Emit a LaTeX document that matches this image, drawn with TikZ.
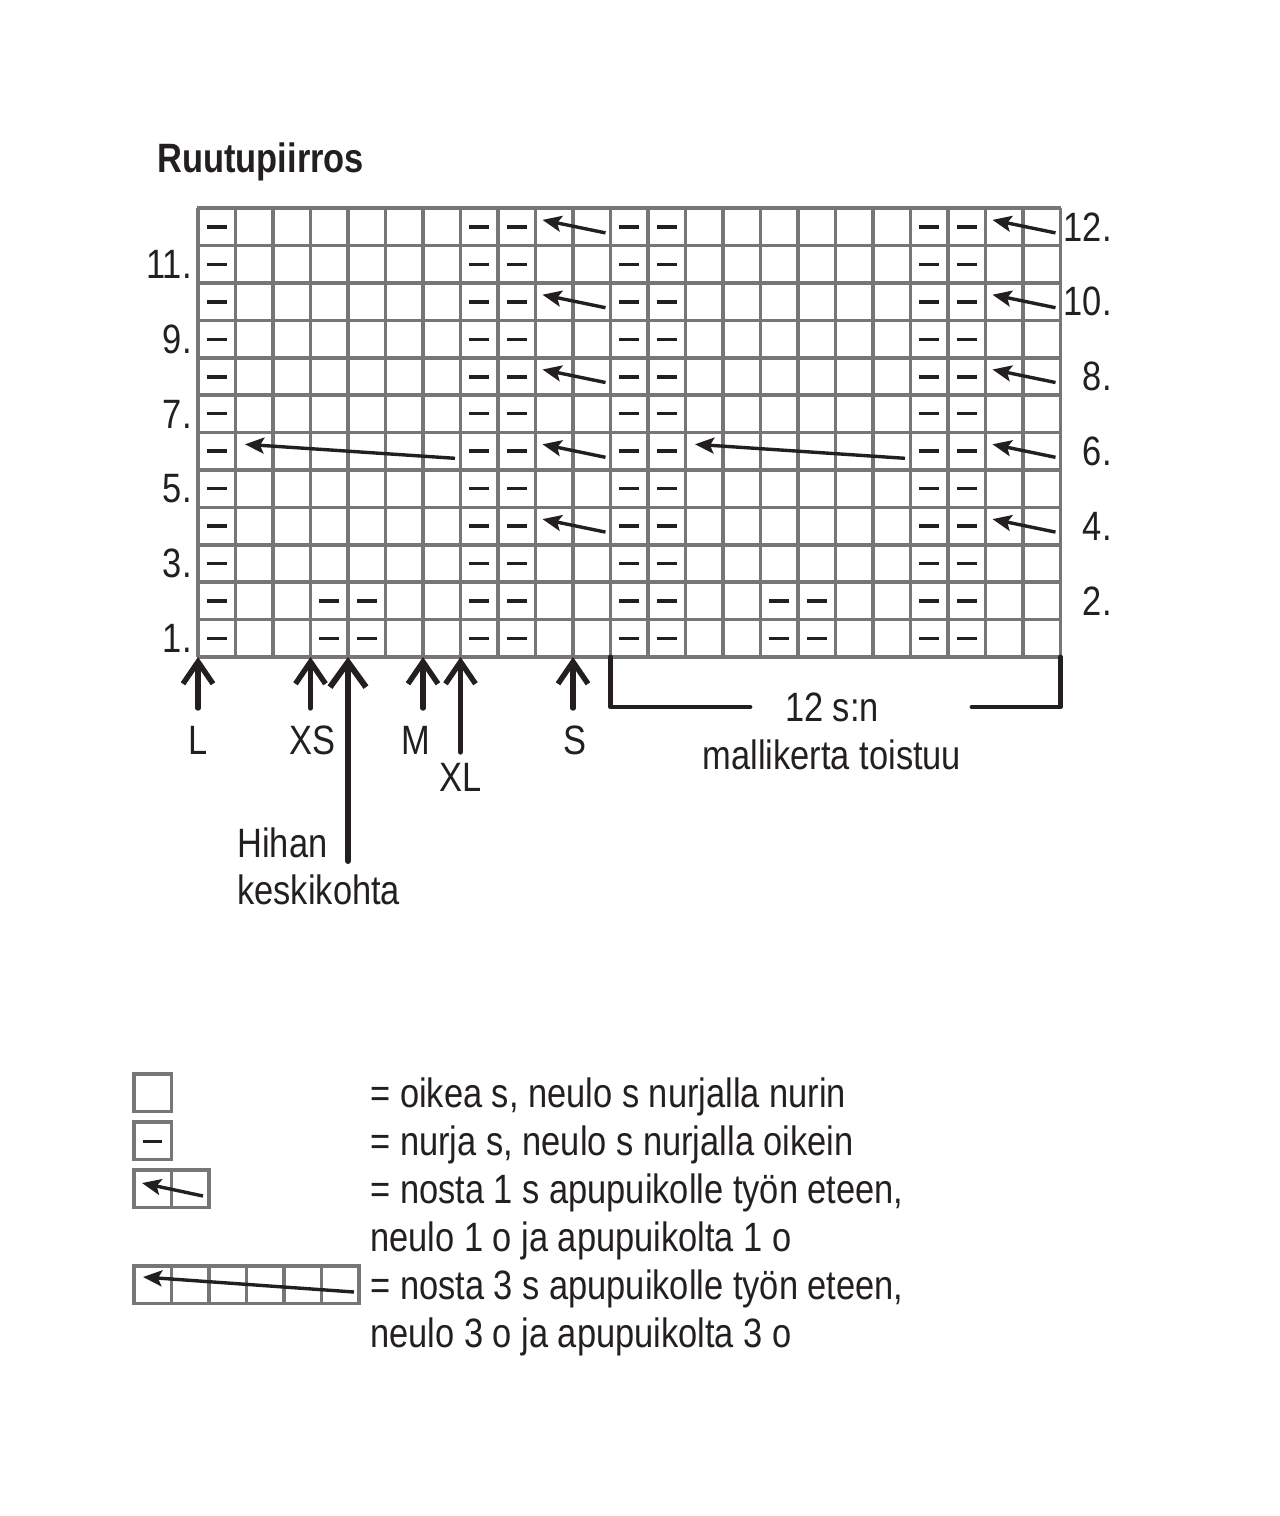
\documentclass[tikz,border=0pt]{standalone}
\usepackage{fontspec}
\setmainfont{Liberation Sans}[FakeStretch=0.84]
\usetikzlibrary{arrows.meta}
\definecolor{ink}{HTML}{231F20}
\definecolor{gridgray}{HTML}{767676}
\tikzset{
  gridline/.style={draw=gridgray,line width=1.8pt},
  dashthick/.style={draw=ink,line width=2pt},
  dashthin/.style={draw=ink,line width=1.5pt},
  cable/.style={draw=ink,line width=1.7pt,-{Stealth[length=9.5pt,width=8pt,inset=2pt]}},
  sizearrow/.style={draw=ink,line width=2.7pt,line cap=round,-{Straight Barb[length=11pt,width=15pt,line width=2.7pt]}},
  bigarrow/.style={draw=ink,line width=3pt,line cap=round,-{Straight Barb[length=12.5pt,width=18pt,line width=3pt]}},
  bracketline/.style={draw=ink,line width=2.4pt,line cap=round,line join=round},
  lbl/.style={text=ink,inner sep=0pt,font=\fontsize{20.5}{24}\selectfont},
  ttl/.style={text=ink,inner sep=0pt,font=\fontsize{20.5}{24}\selectfont\bfseries},
}
\begin{document}
\begin{tikzpicture}[x=0.5pt,y=-0.5pt]
\useasboundingbox (0,0) rectangle (1280,1516);
\fill[white] (0,0) rectangle (1280,1516);
% title
\node[ttl,anchor=base west] (title) at (157,172) {Ruutupiirros};
% grid
\foreach \i in {0,...,23} {
  \draw[gridline] ({198+\i*37.5},208.2) -- ({198+\i*37.5},657);
}
\foreach \j in {0,...,12} {
  \draw[gridline] (197.1,{657-\j*37.4}) -- (1061.4,{657-\j*37.4});
}
% purl dashes
\foreach \r in {1,2} {
  \foreach \c in {1,4,5,8,9,12,13,16,17,20,21} {
    \pgfmathsetmacro\cx{198+(\c-0.5)*37.5}
    \pgfmathsetmacro\cy{657-(\r-0.5)*37.4}
    \ifodd\r
      \draw[dashthin] ({\cx-10},\cy) -- ({\cx+10},\cy);
    \else
      \draw[dashthick] ({\cx-10},\cy) -- ({\cx+10},\cy);
    \fi
  }
}
\foreach \r in {3,...,12} {
  \foreach \c in {1,8,9,12,13,20,21} {
    \pgfmathsetmacro\cx{198+(\c-0.5)*37.5}
    \pgfmathsetmacro\cy{657-(\r-0.5)*37.4}
    \ifodd\r
      \draw[dashthin] ({\cx-10},\cy) -- ({\cx+10},\cy);
    \else
      \draw[dashthick] ({\cx-10},\cy) -- ({\cx+10},\cy);
    \fi
  }
}
% short cable arrows
\foreach \r in {4,6,8,10,12} {
  \foreach \c in {10,22} {
    \pgfmathsetmacro\xl{198+(\c-1)*37.5}
    \pgfmathsetmacro\cy{657-(\r-0.5)*37.4}
    \coordinate (ct-\r-\c) at ({\xl+7},{\cy-7});
    \coordinate (cs-\r-\c) at ({\xl+70},{\cy+6});
    \draw[cable] (cs-\r-\c) -- (ct-\r-\c);
  }
}
% long cable arrows row 6
\pgfmathsetmacro\sixy{657-5.5*37.4}
\coordinate (lt-a) at (245,{\sixy-7});
\coordinate (ls-a) at (455,{\sixy+7});
\coordinate (lt-b) at (695,{\sixy-7});
\coordinate (ls-b) at (905,{\sixy+7});
\draw[cable] (ls-a) -- (lt-a);
\draw[cable] (ls-b) -- (lt-b);
% row numbers
\foreach \r in {1,3,5,7,9,11} {
  \node[lbl,anchor=east] (rn-\r) at (192,{657-(\r-0.5)*37.4}) {\r.};
}
\foreach \r in {2,4,6,8,10,12} {
  \node[lbl,anchor=east] (rn-\r) at (1112,{657-(\r-0.5)*37.4}) {\r.};
}
% size arrows
\coordinate (L-tip) at (198,657);   \coordinate (L-end) at (198,708);
\coordinate (XS-tip) at (310.5,657);\coordinate (XS-end) at (310.5,708);
\coordinate (M-tip) at (423,657);   \coordinate (M-end) at (423,708);
\coordinate (XL-tip) at (460.5,657);\coordinate (XL-end) at (460.5,752);
\coordinate (S-tip) at (573,657);   \coordinate (S-end) at (573,708);
\coordinate (H-tip) at (348,657);   \coordinate (H-end) at (348,861);
\draw[sizearrow] (L-end) -- (L-tip);
\draw[sizearrow] (XS-end) -- (XS-tip);
\draw[sizearrow] (M-end) -- (M-tip);
\draw[sizearrow] (XL-end) -- (XL-tip);
\draw[sizearrow] (S-end) -- (S-tip);
\draw[bigarrow] (H-end) -- (H-tip);
\node[lbl] (lab-L) at (198,740) {L};
\node[lbl] (lab-XS) at (312,740) {XS};
\node[lbl] (lab-M) at (416,740) {M};
\node[lbl] (lab-XL) at (461,777) {XL};
\node[lbl] (lab-S) at (575,740) {S};
\node[lbl,anchor=west] (hihan) at (237,843) {Hihan};
\node[lbl,anchor=west] (keski) at (237,890) {keskikohta};
% repeat bracket
\coordinate (br-a) at (610.5,657);
\coordinate (br-b) at (610.5,707);
\coordinate (br-c) at (750,707);
\coordinate (br-d) at (972,707);
\coordinate (br-e) at (1060.5,707);
\coordinate (br-f) at (1060.5,657);
\draw[bracketline] (br-a) -- (br-b) -- (br-c);
\draw[bracketline] (br-d) -- (br-e) -- (br-f);
\node[lbl] (rep1) at (832,707) {12 s:n};
\node[lbl] (rep2) at (832,755) {mallikerta toistuu};
% legend
\draw[gridline] (134,1074) rectangle (171.5,1111.5);
\draw[gridline] (134,1122) rectangle (171.5,1159.5);
\draw[dashthin] (143,1141) -- (162,1141);
\draw[gridline] (134,1170) rectangle (209,1207.5);
\draw[gridline] (171.5,1170) -- (171.5,1207.5);
\coordinate (lg1-t) at (142,1183);
\coordinate (lg1-s) at (203,1196);
\draw[cable] (lg1-s) -- (lg1-t);
\draw[gridline] (134,1266) rectangle (359,1303.5);
\foreach \k in {1,...,5} {
  \draw[gridline] ({134+\k*37.5},1266) -- ({134+\k*37.5},1303.5);
}
\coordinate (lg2-t) at (143,1277);
\coordinate (lg2-s) at (354,1292);
\draw[cable] (lg2-s) -- (lg2-t);
\node[lbl,anchor=base west] (t1) at (370,1107) {= oikea s, neulo s nurjalla nurin};
\node[lbl,anchor=base west] (t2) at (370,1155) {= nurja s, neulo s nurjalla oikein};
\node[lbl,anchor=base west] (t3) at (370,1203) {= nosta 1 s apupuikolle työn eteen,};
\node[lbl,anchor=base west] (t4) at (370,1251) {neulo 1 o ja apupuikolta 1 o};
\node[lbl,anchor=base west] (t5) at (370,1299) {= nosta 3 s apupuikolle työn eteen,};
\node[lbl,anchor=base west] (t6) at (370,1347) {neulo 3 o ja apupuikolta 3 o};
\end{tikzpicture}
\end{document}
